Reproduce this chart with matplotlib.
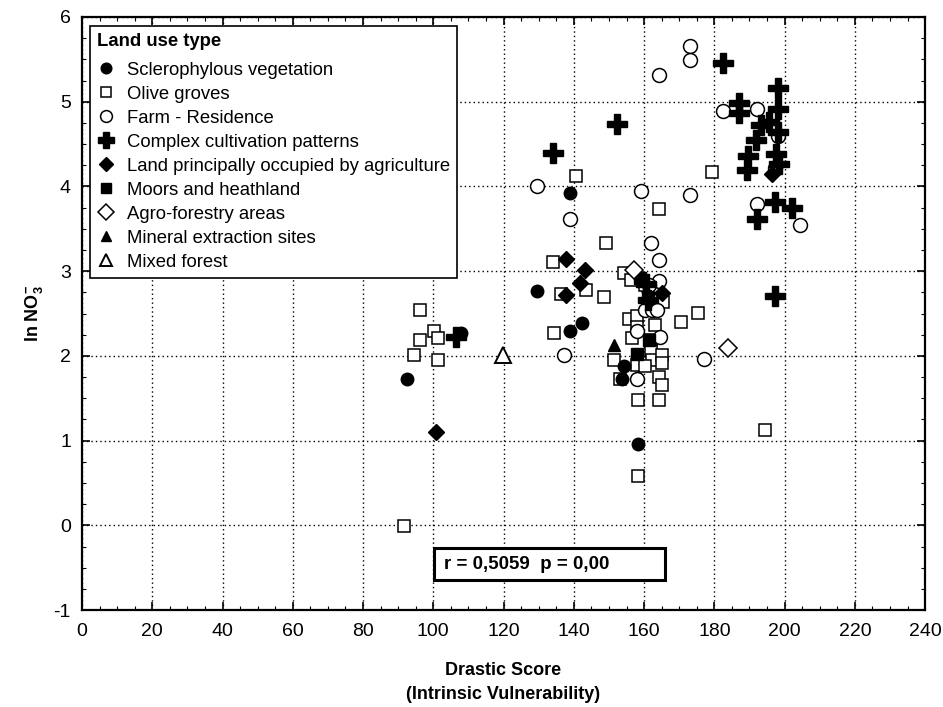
import numpy as np
import matplotlib
matplotlib.use("Agg")
import matplotlib.pyplot as plt
from matplotlib.patches import Rectangle
from matplotlib.ticker import MultipleLocator

plt.rcParams['font.family'] = ['Liberation Sans', 'DejaVu Sans']
plt.rcParams['mathtext.fontset'] = 'custom'
plt.rcParams['mathtext.rm'] = 'Liberation Sans'
plt.rcParams['mathtext.bf'] = 'Liberation Sans:bold'
plt.rcParams['axes.unicode_minus'] = False

# data (Drastic score, ln NO3-)
sclero_x = [92.4, 139.0, 129.4, 108.0, 139.0, 142.2, 154.2, 153.8, 158.2]
sclero_y = [1.73, 3.92, 2.77, 2.27, 2.30, 2.39, 1.88, 1.73, 0.96]

olive_x = [91.6, 96.3, 100.3, 96.3, 101.3, 94.5, 101.3, 134.2, 136.3, 134.3,
           140.5, 149.3, 154.2, 156.3, 143.6, 148.5, 155.6, 156.6, 161.0, 165.4,
           175.4, 170.4, 158.0, 158.0, 163.0, 162.0, 151.5, 158.0, 162.0, 162.2,
           165.1, 165.1, 160.3, 153.2, 164.3, 165.2, 158.2, 164.3, 158.2, 179.4,
           164.3, 194.4, 160.3]
olive_y = [-0.01, 2.54, 2.30, 2.19, 2.21, 2.01, 1.95, 3.11, 2.73, 2.27,
           4.12, 3.33, 2.98, 2.90, 2.78, 2.70, 2.43, 2.21, 2.83, 2.64,
           2.51, 2.40, 2.47, 2.34, 2.37, 2.19, 1.95, 1.89, 2.06, 1.95,
           2.01, 1.92, 1.88, 1.73, 1.75, 1.66, 1.48, 1.48, 0.58, 4.17,
           3.73, 1.12, 2.84]

farm_x = [129.4, 139.0, 159.0, 137.3, 173.1, 173.1, 164.3, 182.4, 192.1, 198.2,
          197.2, 173.1, 192.1, 204.5, 162.0, 164.3, 164.3, 161.3, 160.2, 162.2,
          163.6, 158.0, 164.6, 158.0, 177.1]
farm_y = [4.01, 3.62, 3.95, 2.01, 5.66, 5.49, 5.31, 4.89, 4.91, 4.59,
          4.22, 3.90, 3.79, 3.55, 3.33, 3.13, 2.89, 2.84, 2.54, 2.54,
          2.54, 2.29, 2.22, 1.73, 1.96]

complex_x = [106.4, 134.2, 152.3, 182.4, 198.2, 187.1, 187.1, 198.2, 193.3, 195.7,
             198.2, 191.8, 189.5, 189.2, 197.6, 198.5, 197.3, 202.2, 192.1, 197.3,
             161.2, 160.5]
complex_y = [2.22, 4.39, 4.74, 5.46, 5.16, 4.98, 4.87, 4.91, 4.73, 4.76,
             4.64, 4.55, 4.36, 4.19, 4.38, 4.27, 3.82, 3.74, 3.62, 2.71,
             2.66, 2.85]

agri_x = [137.9, 143.3, 141.9, 137.9, 100.9, 165.1, 196.3]
agri_y = [3.14, 3.01, 2.86, 2.72, 1.10, 2.74, 4.15]

moors_x = [158.0, 161.5, 161.0, 158.9]
moors_y = [2.02, 2.19, 2.68, 2.92]

agroforest_x = [157.2, 184.0]
agroforest_y = [3.01, 2.09]

mineral_x = [151.5]
mineral_y = [2.13]

mixed_x = [119.9]
mixed_y = [2.01]

r_text = 'r = 0,5059  p = 0,00'

fig = plt.figure(figsize=(9.43, 7.07), dpi=100)
ax = fig.add_axes([0.087, 0.137, 0.894, 0.839])

ew = 1.1
ax.plot(olive_x, olive_y, 's', ms=8, mfc='white', mec='black', mew=ew,
        ls='none', label='Olive groves', zorder=3)
ax.plot(farm_x, farm_y, 'o', ms=10, mfc='white', mec='black', mew=ew,
        ls='none', label='Farm - Residence', zorder=3)
ax.plot(sclero_x, sclero_y, 'o', ms=9, color='black',
        ls='none', label='Sclerophylous vegetation', zorder=4)
ax.plot(complex_x, complex_y, 'P', ms=14, color='black',
        ls='none', label='Complex cultivation patterns', zorder=4)
ax.plot(agri_x, agri_y, 'D', ms=8.5, color='black',
        ls='none', label='Land principally occupied by agriculture', zorder=4)
ax.plot(moors_x, moors_y, 's', ms=8, color='black',
        ls='none', label='Moors and heathland', zorder=4)
ax.plot(agroforest_x, agroforest_y, 'D', ms=9, mfc='white', mec='black', mew=ew,
        ls='none', label='Agro-forestry areas', zorder=4)
ax.plot(mineral_x, mineral_y, '^', ms=9, color='black',
        ls='none', label='Mineral extraction sites', zorder=4)
ax.plot(mixed_x, mixed_y, '^', ms=11, mfc='white', mec='black', mew=1.4,
        ls='none', label='Mixed forest', zorder=4)

ax.set_xlim(0, 240)
ax.set_ylim(-1, 6)
ax.xaxis.set_major_locator(MultipleLocator(20))
ax.xaxis.set_minor_locator(MultipleLocator(5))
ax.yaxis.set_major_locator(MultipleLocator(1))
ax.yaxis.set_minor_locator(MultipleLocator(0.25))
ax.tick_params(which='both', direction='in', top=True, right=True, labelsize=14)
ax.tick_params(which='major', length=6, width=1.2)
ax.tick_params(which='minor', length=3, width=0.8)
ax.tick_params(axis='x', pad=9)
ax.tick_params(axis='y', pad=8)
ax.grid(True, which='major', ls=(0, (1, 2.2)), color='black', lw=1.0)
ax.set_axisbelow(True)
for sp in ax.spines.values():
    sp.set_linewidth(1.6)

ax.set_xlabel('Drastic Score\n(Intrinsic Vulnerability)', fontsize=13,
              fontweight='bold', labelpad=16, linespacing=1.55)
ax.set_ylabel(r'ln NO$_\mathbf{3}^{\mathbf{-}}$', fontsize=13, fontweight='bold',
              labelpad=6)

# correlation box
ax.add_patch(Rectangle((100.3, -0.65), 65.7, 0.38, fill=True, facecolor='white',
                       edgecolor='black', lw=2.2, zorder=5))
ax.text(103, -0.46, r_text, fontsize=13.5, fontweight='bold', va='center',
        ha='left', zorder=6)

# legend order as in reference
handles, labels = ax.get_legend_handles_labels()
order = ['Sclerophylous vegetation', 'Olive groves', 'Farm - Residence',
         'Complex cultivation patterns', 'Land principally occupied by agriculture',
         'Moors and heathland', 'Agro-forestry areas', 'Mineral extraction sites',
         'Mixed forest']
hmap = dict(zip(labels, handles))
leg = ax.legend([hmap[k] for k in order], order, title='Land use type',
                loc='upper left', bbox_to_anchor=(0.009, 0.984), fontsize=13.3,
                title_fontproperties={'weight': 'bold', 'size': 13.3},
                frameon=True, fancybox=False, edgecolor='black', framealpha=1,
                borderpad=0.38, labelspacing=0.38, handlelength=1.0,
                handletextpad=0.65, borderaxespad=0, alignment='left',
                markerscale=0.85)
leg.get_frame().set_linewidth(1.2)
leg._legend_box.sep = 8
leg.set_zorder(10)

fig.savefig('out.png', dpi=100)
